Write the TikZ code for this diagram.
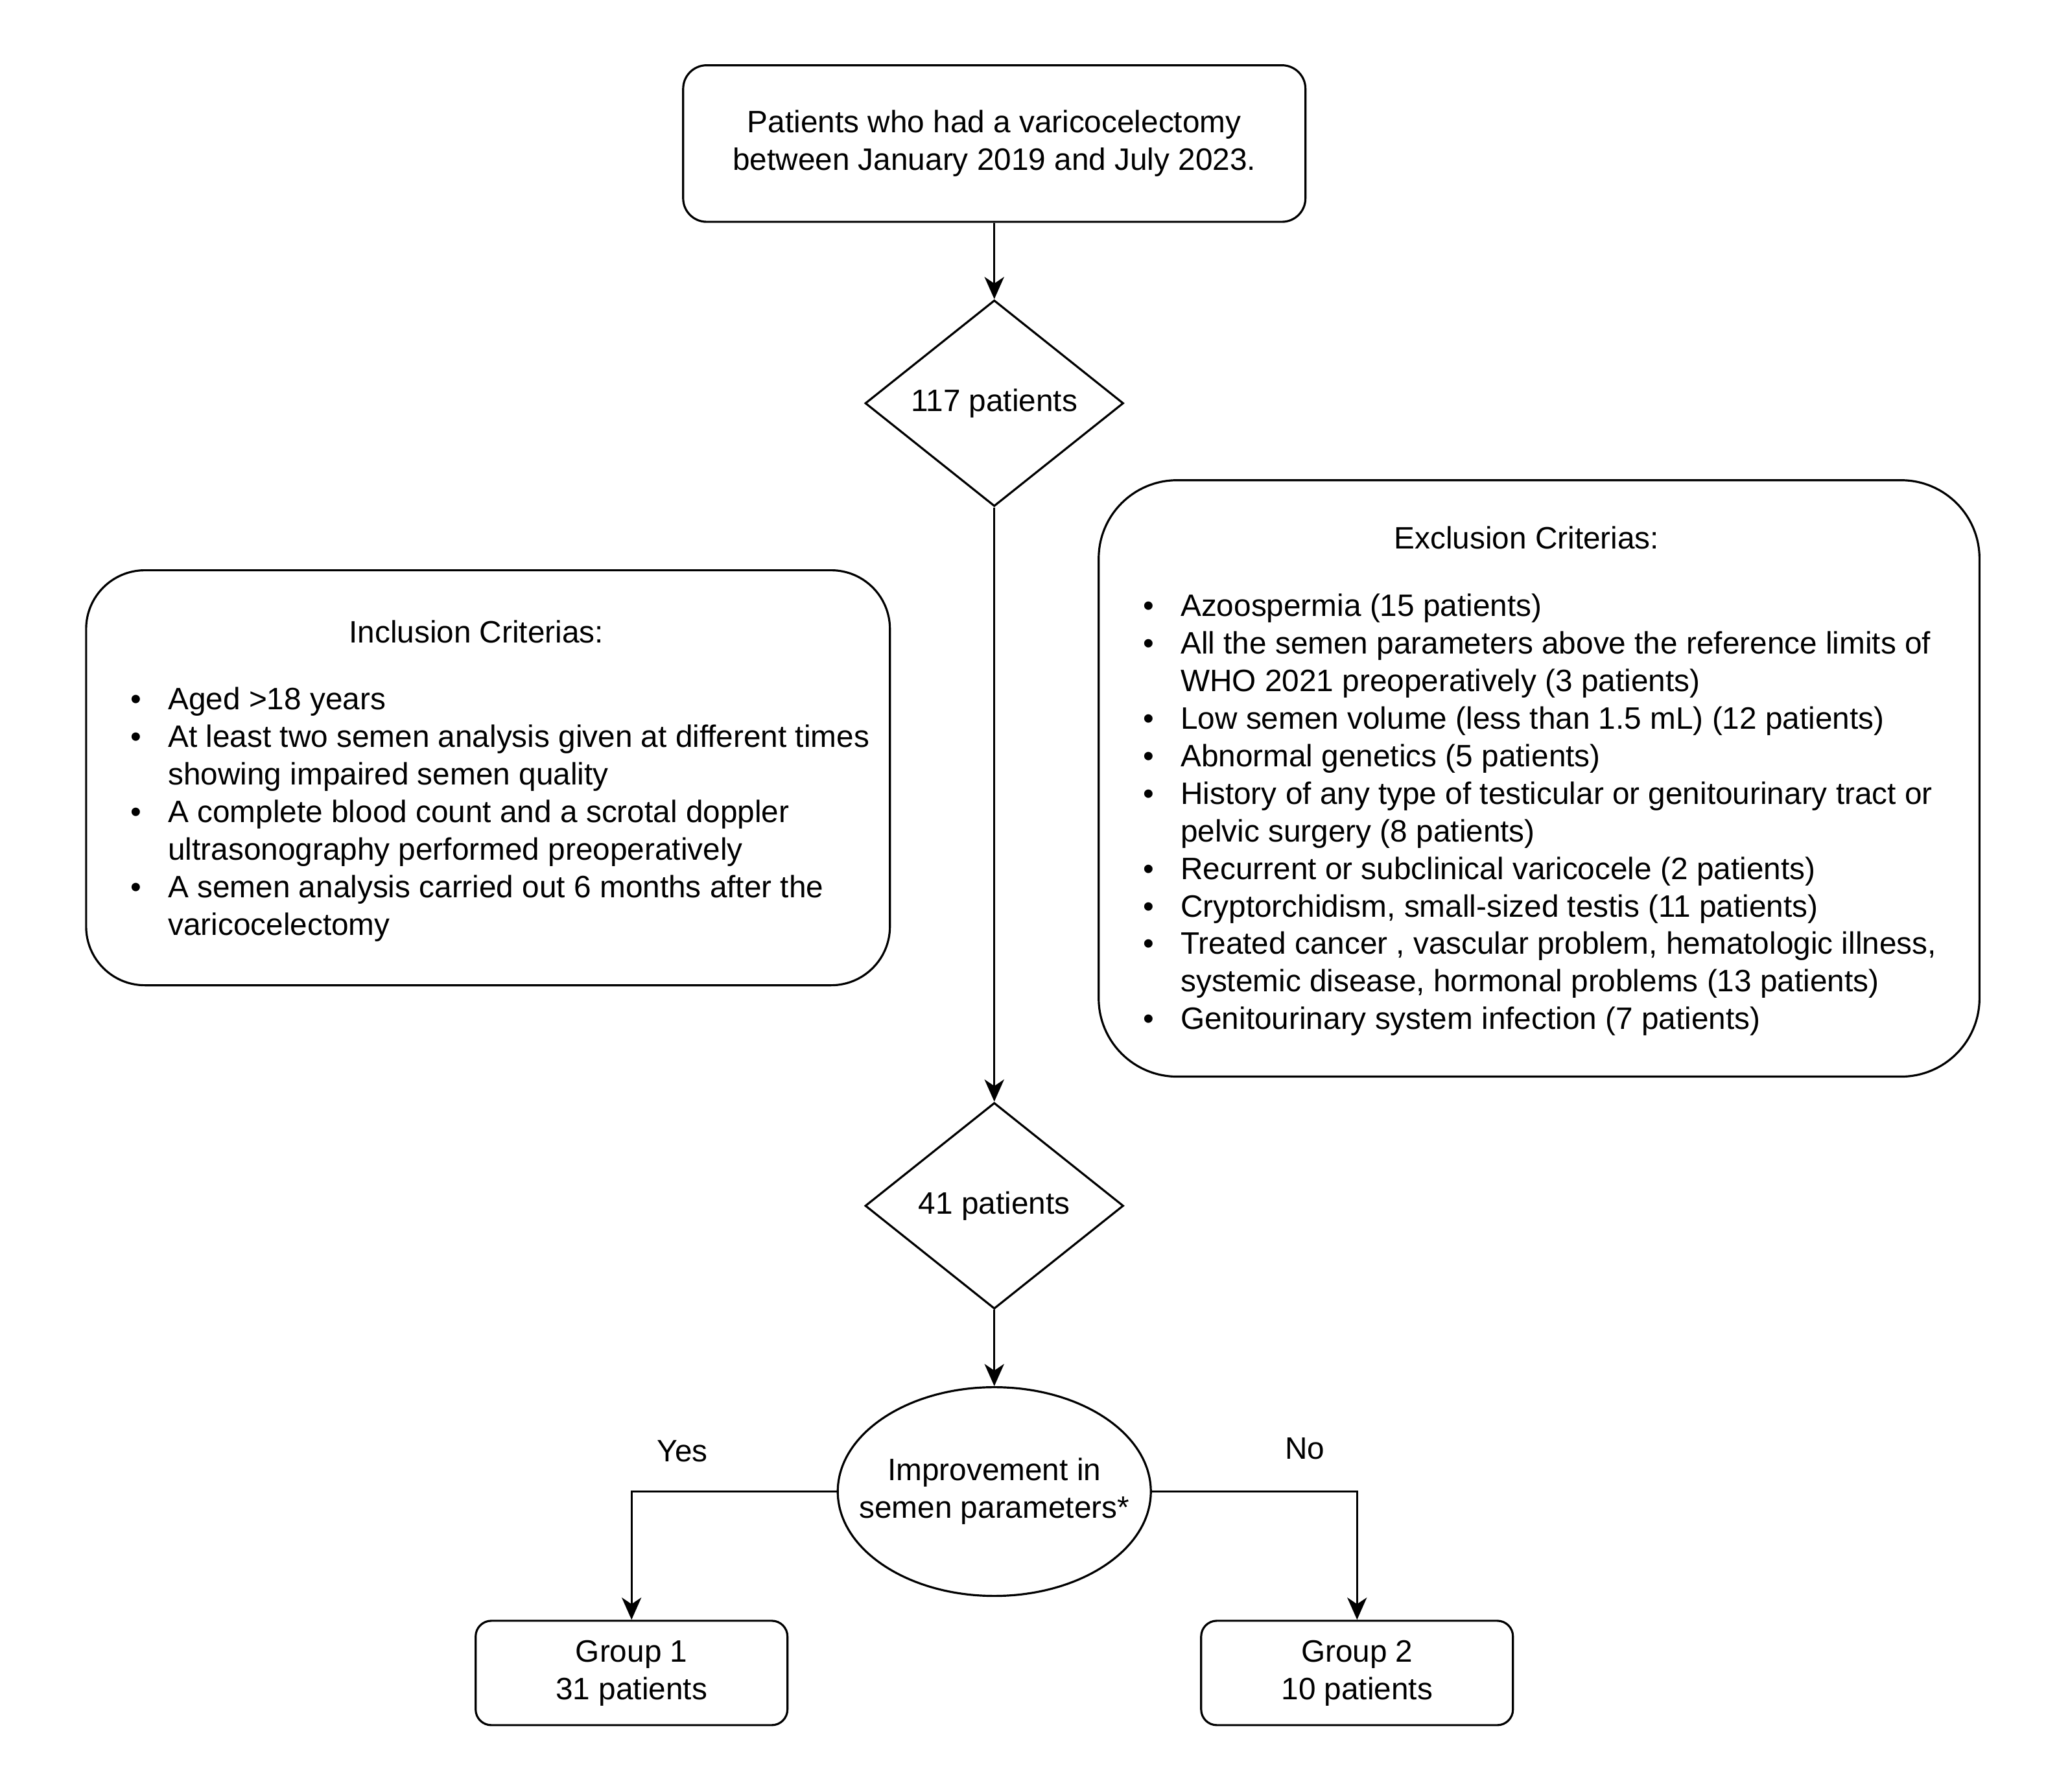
\documentclass[tikz,border=0pt]{standalone}
\usepackage{fontspec}
\setmainfont{Liberation Sans}
\usetikzlibrary{shapes.geometric,arrows.meta}

\begin{document}
\begin{tikzpicture}[x=0.02cm,y=-0.02cm,
        every node/.style={font=\fontsize{13.5}{16.4}\selectfont},
        box/.style={draw, line width=0.9pt, rounded corners=0.36cm, align=center},
        decision/.style={draw, line width=0.9pt, diamond, aspect=1.25, inner sep=1pt,
            minimum width=3.96cm, minimum height=3.16cm},
        link/.style={line width=0.9pt, -{Stealth[length=0.34cm, width=0.3cm, inset=0.1cm]}}]
            \useasboundingbox (0,0) rectangle (1568,1373);

            % main flow
            \node[box, minimum width=9.54cm, minimum height=2.4cm] (start) at (762,110)
                {Patients who had a varicocelectomy\\between January 2019 and July 2023.};
            \node[decision] (d117) at (762,309) {117 patients};
            \node[decision] (d41) at (762,924) {41 patients};
            \node[draw, line width=0.9pt, ellipse, align=center, inner sep=0pt,
                minimum width=4.8cm, minimum height=3.2cm] (improve) at (762,1143)
                {\makebox[0pt]{Improvement in}\\\makebox[0pt]{semen parameters*}};
            \node[box, rounded corners=0.24cm, minimum width=4.78cm, minimum height=1.6cm] (group1) at (484,1282)
                {Group 1\\31 patients};
            \node[box, rounded corners=0.24cm, minimum width=4.78cm, minimum height=1.6cm] (group2) at (1040,1282)
                {Group 2\\10 patients};

            \draw[link] (start) -- (d117);
            \draw[link] (d117) -- (d41);
            \draw[link] (d41) -- (improve);
            \draw[link] (improve.west) -| (group1.north);
            \draw[link] (improve.east) -| (group2.north);
            \node (yes) at (523,1112) {Yes};
            \node (no) at (1000,1110) {No};

            % inclusion criterias
            \draw[line width=0.9pt, rounded corners=0.9cm] (66,437) rectangle (682,755);
            \node (inctitle) at (365,484) {Inclusion Criterias:};
            \node[anchor=base west, inner sep=0pt] (inclist) at (100,544) {\begin{tabular}[t]{@{}p{0.57cm}@{}l@{}}
                \textbullet & Aged >18 years\\
                \textbullet & At least two semen analysis given at different times\\
                            & showing impaired semen quality\\
                \textbullet & A complete blood count and a scrotal doppler\\
                            & ultrasonography performed preoperatively\\
                \textbullet & A semen analysis carried out 6 months after the\\
                            & varicocelectomy
            \end{tabular}};

            % exclusion criterias
            \draw[line width=0.9pt, rounded corners=1.2cm] (842,368) rectangle (1517,825);
            \node (exctitle) at (1170,412) {Exclusion Criterias:};
            \node[anchor=base west, inner sep=0pt] (exclist) at (876,472) {\begin{tabular}[t]{@{}p{0.57cm}@{}l@{}}
                \textbullet & Azoospermia (15 patients)\\
                \textbullet & All the semen parameters above the reference limits of\\
                            & WHO 2021 preoperatively (3 patients)\\
                \textbullet & Low semen volume (less than 1.5 mL) (12 patients)\\
                \textbullet & Abnormal genetics (5 patients)\\
                \textbullet & History of any type of testicular or genitourinary tract or\\
                            & pelvic surgery (8 patients)\\
                \textbullet & Recurrent or subclinical varicocele (2 patients)\\
                \textbullet & Cryptorchidism, small-sized testis (11 patients)\\
                \textbullet & Treated cancer , vascular problem, hematologic illness,\\
                            & systemic disease, hormonal problems (13 patients)\\
                \textbullet & Genitourinary system infection (7 patients)
            \end{tabular}};
        \end{tikzpicture}
\end{document}
